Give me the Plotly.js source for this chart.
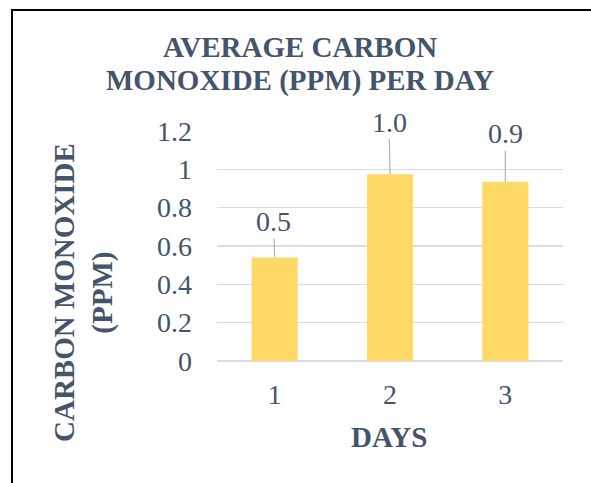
<!DOCTYPE html>
<html>
<head>
<meta charset="utf-8">
<script src="https://cdn.plot.ly/plotly-3.0.1.min.js"></script>
<style>
  html, body { margin: 0; padding: 0; background: #fff; }
  #wrap { position: relative; width: 591px; height: 483px; overflow: hidden; }
  #frame { position: absolute; left: 11px; top: 9px; width: 700px; height: 600px;
           border-left: 2px solid #000; border-top: 2px solid #000; box-sizing: border-box; }
  #chart { position: absolute; left: 0; top: 0; width: 591px; height: 483px; }
</style>
</head>
<body>
<div id="wrap">
  <div id="frame"></div>
  <div id="chart"></div>
</div>
<script>
// Average carbon monoxide readings per day (ppm)
const days = ['1', '2', '3'];
const avgPpm = [0.54, 0.975, 0.935];
const yTicks = [0, 0.2, 0.4, 0.6, 0.8, 1, 1.2];
const titleLines = ['AVERAGE CARBON', 'MONOXIDE (PPM) PER DAY'];

// Callout offsets (px) for the value labels above each bar
const labelDx = [-1, -1, 0];
const labelDy = [-36, -52, -48];

const ink = '#44546A';
const serif = 'Liberation Serif, Times New Roman, serif';

const trace = {
  type: 'bar',
  x: days,
  y: avgPpm,
  marker: { color: '#FFD966' },
  hoverinfo: 'x+y'
};

// value callouts: category index on x, bar value on y
const valueLabels = days.map((d, i) => ({
  x: i, y: avgPpm[i], xref: 'x', yref: 'y',
  text: avgPpm[i].toFixed(1),
  showarrow: true, arrowhead: 0, arrowwidth: 1.2, arrowcolor: '#A9B3C0',
  standoff: 0, ax: labelDx[i], ay: labelDy[i],
  font: { family: serif, size: 28, color: ink }
}));

// chart title, one annotation per line for tight line spacing
const titleRows = [46.5, 81];
const titleNotes = titleLines.map((t, i) => ({
  text: '<b>' + t + '</b>',
  xref: 'paper', yref: 'paper',
  x: (300 - 217) / 346, y: (361 - titleRows[i]) / 230,
  xanchor: 'center', yanchor: 'middle',
  showarrow: false,
  font: { family: serif, size: 29, color: ink }
}));

const layout = {
  width: 591, height: 483,
  margin: { l: 217, r: 28, t: 131, b: 122 },
  paper_bgcolor: 'rgba(0,0,0,0)',
  plot_bgcolor: 'rgba(0,0,0,0)',
  showlegend: false,
  bargap: 0.6,
  xaxis: {
    type: 'category',
    range: [-0.5, 2.5],
    tickfont: { family: serif, size: 28, color: ink },
    showgrid: false, showline: false, zeroline: false,
    ticks: '', ticklabelstandoff: 14
  },
  yaxis: {
    range: [0, 1.2],
    tickvals: yTicks,
    tickfont: { family: serif, size: 28, color: ink },
    showgrid: true, gridcolor: '#D9DDE3', gridwidth: 1.5,
    zeroline: true, zerolinecolor: '#D9DDE3', zerolinewidth: 1.5,
    showline: false, ticks: '', ticklabelstandoff: 24
  },
  annotations: valueLabels.concat(titleNotes, [
    {
      text: '<b>CARBON MONOXIDE<br>(PPM)</b>',
      xref: 'paper', yref: 'paper',
      x: (83 - 217) / 346, y: (361 - 293) / 230,
      xanchor: 'center', yanchor: 'middle',
      textangle: -90, showarrow: false,
      font: { family: serif, size: 29, color: ink }
    },
    {
      text: '<b>DAYS</b>',
      xref: 'paper', yref: 'paper',
      x: (389 - 217) / 346, y: (361 - 437) / 230,
      xanchor: 'center', yanchor: 'middle',
      showarrow: false,
      font: { family: serif, size: 29, color: ink }
    }
  ])
};

Plotly.newPlot('chart', [trace], layout, { displayModeBar: false, staticPlot: true });
</script>
</body>
</html>
